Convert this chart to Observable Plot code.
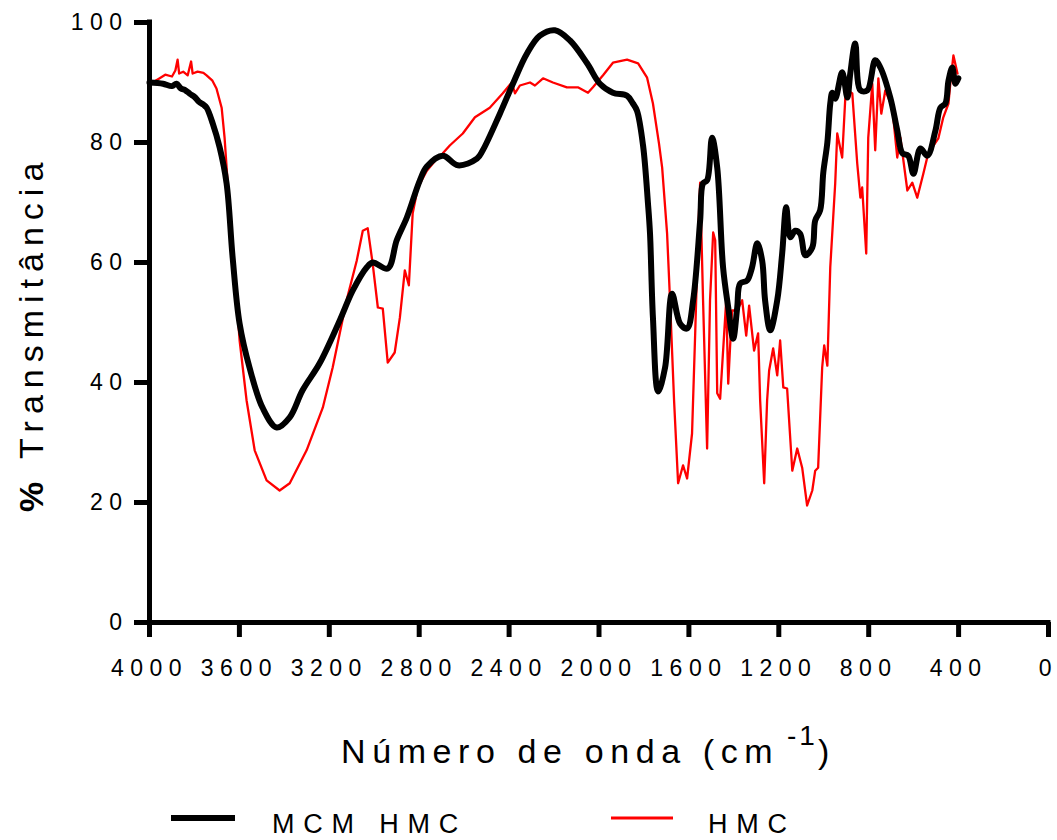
<!DOCTYPE html>
<html>
<head>
<meta charset="utf-8">
<script src="https://cdn.jsdelivr.net/npm/d3@7"></script>
<script src="https://cdn.jsdelivr.net/npm/@observablehq/plot@0.6"></script>
<style>
  html, body { margin: 0; padding: 0; background: white; }
</style>
</head>
<body>
<div id="chart"></div>
<script>
// Tick values
const xTicks = [4000, 3600, 3200, 2800, 2400, 2000, 1600, 1200, 800, 400, 0];
const yTicks = [0, 20, 40, 60, 80, 100];

// Series names
const seriesNames = ["MCM HMC", "HMC"];

// MCM HMC (black): wavenumber (cm-1) and % transmittance
const mcmWave = [4000, 3940, 3900, 3880, 3860, 3840, 3820, 3800, 3780, 3760, 3746, 3719, 3688, 3657, 3630, 3599, 3555, 3497, 3434, 3376, 3319, 3243, 3154, 3096, 3033, 3007, 2940, 2900, 2855, 2797, 2766, 2695, 2628, 2543, 2517, 2441, 2383, 2321, 2263, 2196, 2129, 2053, 1996, 1938, 1875, 1849, 1831, 1804, 1782, 1773, 1760, 1737, 1706, 1675, 1639, 1608, 1581, 1550, 1537, 1519, 1497, 1474, 1448, 1425, 1403, 1385, 1372, 1341, 1319, 1296, 1274, 1261, 1238, 1207, 1185, 1167, 1149, 1127, 1105, 1082, 1051, 1038, 1016, 1002, 984, 971, 962, 949, 918, 895, 882, 860, 837, 806, 771, 748, 704, 673, 650, 624, 601, 570, 539, 503, 481, 459, 445, 428, 414, 401];
const mcmT = [90.0, 89.8, 89.4, 89.8, 89.0, 88.7, 88.1, 87.6, 86.8, 86.3, 85.8, 83.2, 79.2, 73.2, 60.8, 49.8, 42.5, 35.8, 32.5, 34.2, 38.7, 43.2, 50.3, 55.3, 59.2, 60.0, 59.0, 63.7, 67.5, 73.7, 76.0, 77.8, 76.2, 77.3, 78.7, 84.8, 89.8, 94.8, 97.8, 98.7, 97.0, 93.2, 89.8, 88.3, 87.8, 86.5, 85.3, 79.5, 69.8, 64.8, 50.8, 38.5, 42.5, 54.8, 49.8, 49.0, 53.7, 67.0, 73.2, 73.7, 80.8, 75.8, 59.2, 52.5, 47.3, 52.5, 56.5, 57.0, 59.2, 63.2, 60.3, 53.7, 48.7, 53.7, 61.5, 69.2, 64.2, 65.3, 64.8, 61.2, 62.5, 67.0, 68.7, 75.0, 80.0, 86.5, 88.3, 87.3, 91.7, 87.5, 91.5, 96.5, 88.7, 88.7, 93.7, 92.5, 87.5, 82.0, 78.2, 77.8, 74.8, 79.0, 77.8, 82.0, 85.8, 86.5, 90.3, 92.5, 89.8, 90.7];

// HMC (red): wavenumber (cm-1) and % transmittance
const hmcWave = [3987, 3960, 3930, 3900, 3885, 3875, 3868, 3850, 3830, 3815, 3808, 3786, 3760, 3746, 3720, 3702, 3679, 3666, 3653, 3630, 3599, 3568, 3532, 3479, 3421, 3376, 3301, 3229, 3185, 3123, 3078, 3051, 3029, 3007, 2984, 2962, 2940, 2909, 2886, 2864, 2846, 2829, 2806, 2766, 2722, 2695, 2664, 2606, 2552, 2486, 2428, 2388, 2374, 2352, 2307, 2285, 2249, 2205, 2143, 2094, 2049, 2027, 1982, 1938, 1875, 1826, 1786, 1760, 1733, 1719, 1697, 1684, 1666, 1648, 1626, 1608, 1586, 1572, 1559, 1550, 1537, 1519, 1506, 1492, 1483, 1474, 1461, 1443, 1434, 1425, 1417, 1408, 1385, 1363, 1345, 1332, 1310, 1292, 1283, 1265, 1252, 1243, 1225, 1207, 1194, 1180, 1163, 1140, 1118, 1096, 1074, 1051, 1038, 1025, 1007, 998, 984, 971, 958, 949, 940, 918, 904, 891, 873, 851, 837, 829, 811, 802, 784, 771, 757, 744, 726, 695, 673, 659, 628, 606, 584, 557, 535, 490, 468, 445, 437, 423, 405];
const hmcT = [90.0, 90.6, 91.3, 91.0, 92.0, 93.8, 91.5, 91.8, 91.2, 93.5, 91.5, 91.8, 91.6, 91.2, 90.3, 89.0, 85.8, 80.8, 73.7, 62.5, 47.0, 37.0, 28.7, 23.7, 22.0, 23.2, 28.7, 35.8, 42.5, 53.7, 60.3, 65.3, 65.7, 59.8, 52.5, 52.3, 43.3, 45.0, 50.8, 58.7, 56.2, 68.2, 72.5, 75.3, 77.3, 78.2, 79.5, 81.5, 84.2, 85.8, 88.2, 90.0, 88.2, 89.5, 90.0, 89.5, 90.7, 90.0, 89.2, 89.2, 88.3, 89.2, 91.2, 93.3, 93.8, 93.2, 90.8, 86.5, 79.8, 75.8, 64.8, 53.7, 37.0, 23.2, 26.2, 24.0, 31.5, 48.2, 64.8, 73.3, 53.7, 29.0, 53.7, 65.0, 63.7, 38.2, 37.3, 48.2, 53.7, 39.8, 45.8, 52.0, 52.0, 53.7, 47.8, 52.8, 45.3, 48.2, 37.0, 23.2, 37.0, 42.0, 45.7, 41.2, 47.0, 39.2, 39.0, 25.3, 29.0, 25.8, 19.5, 22.0, 25.3, 25.8, 42.5, 46.2, 42.8, 59.2, 67.5, 73.2, 81.5, 77.5, 87.5, 88.7, 88.2, 76.5, 70.8, 72.5, 61.5, 80.8, 89.8, 78.7, 90.7, 84.8, 88.7, 85.8, 77.5, 80.8, 72.0, 73.3, 70.8, 74.8, 78.2, 80.7, 84.2, 86.5, 89.8, 94.5, 91.5];

const mcm = mcmWave.map((w, i) => ({w, t: mcmT[i]}));
const hmc = hmcWave.map((w, i) => ({w, t: hmcT[i]}));

const FONT = "'Liberation Sans', Arial, Helvetica, sans-serif";

const chart = Plot.plot({
  width: 1057,
  height: 840,
  marginLeft: 149,
  marginRight: 9,
  marginTop: 22,
  marginBottom: 218,
  x: {domain: [4000, 0]},
  y: {domain: [0, 100]},
  style: {fontFamily: FONT, background: "white", color: "black", overflow: "visible"},
  marks: [
    Plot.axisX({ticks: xTicks, tickSize: 15, tickPadding: 22, fontSize: 23, strokeWidth: 5, label: null, tickFormat: d => String(d)}),
    Plot.axisY({ticks: yTicks, tickSize: 15, tickPadding: 6, fontSize: 23, strokeWidth: 5, label: null, tickFormat: d => String(d)}),
    Plot.ruleX([4000], {strokeWidth: 5, strokeLinecap: "square"}),
    Plot.ruleY([0], {strokeWidth: 5, strokeLinecap: "square"}),
    Plot.line(hmc, {x: "w", y: "t", stroke: "#ff0000", strokeWidth: 2.3}),
    Plot.line(mcm, {x: "w", y: "t", stroke: "black", strokeWidth: 6, curve: "catmull-rom"})
  ]
});

document.getElementById("chart").appendChild(chart);

const svg = d3.select(chart);
svg.selectAll('[aria-label="x-axis tick label"] text').style("letter-spacing", "6.5px");
svg.selectAll('[aria-label="y-axis tick label"] text').style("letter-spacing", "6.5px");

// Y axis title
const yt = svg.append("text")
  .attr("transform", "translate(43,512) rotate(-90)")
  .attr("text-anchor", "start")
  .attr("font-size", 34)
  .attr("font-family", FONT)
  .attr("fill", "black")
  .style("letter-spacing", "7px");
yt.append("tspan").attr("font-weight", "bold").text("%");
yt.append("tspan").text(" Transmitância");

// X axis title
const xt = svg.append("text")
  .attr("text-anchor", "start")
  .attr("font-family", FONT)
  .attr("fill", "black")
  .attr("font-size", 34)
  .style("letter-spacing", "6.6px");
xt.append("tspan").attr("x", 341).attr("y", 763).text("Número de onda (cm");
xt.append("tspan").attr("x", 787).attr("y", 745).attr("font-size", 28).style("letter-spacing", "3px").text("-1");
xt.append("tspan").attr("x", 818).attr("y", 763).style("letter-spacing", "0px").text(")");

// Legend
const legendItems = [
  {name: seriesNames[0], color: "black", width: 6, x1: 171, x2: 235, tx: 272},
  {name: seriesNames[1], color: "#ff0000", width: 3, x1: 611, x2: 673, tx: 708}
];
for (const it of legendItems) {
  svg.append("line")
    .attr("x1", it.x1).attr("x2", it.x2)
    .attr("y1", 818).attr("y2", 818)
    .attr("stroke", it.color).attr("stroke-width", it.width);
  svg.append("text")
    .attr("x", it.tx).attr("y", 833)
    .attr("text-anchor", "start")
    .attr("font-family", FONT)
    .attr("font-size", 27)
    .attr("fill", "black")
    .style("letter-spacing", "8.8px")
    .text(it.name);
}
</script>
</body>
</html>
